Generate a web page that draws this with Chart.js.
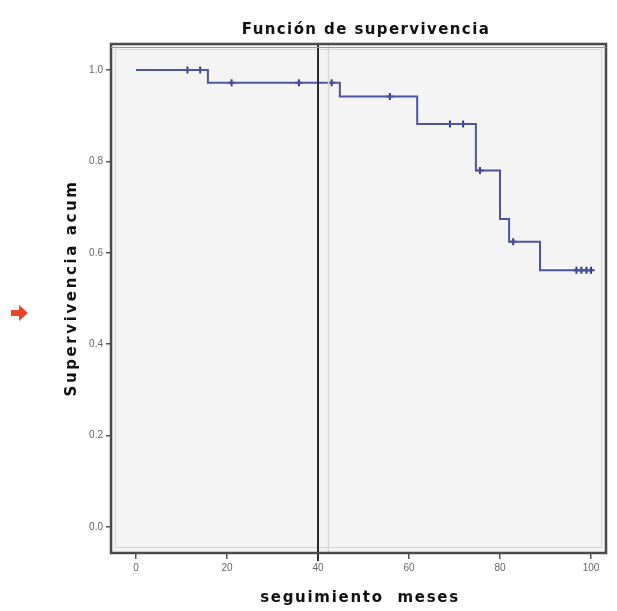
<!DOCTYPE html>
<html>
<head>
<meta charset="utf-8">
<script src="https://cdn.jsdelivr.net/npm/chart.js@4.4.1/dist/chart.umd.min.js"></script>
<style>
html,body{margin:0;padding:0;background:#fff;}
#wrap{width:617px;height:611px;}
</style>
</head>
<body>
<div id="wrap"><canvas id="c" width="617" height="611"></canvas></div>
<script>
// Kaplan-Meier step curve (time in months, cumulative survival)
const stepTimes = [0, 15.8, 44.8, 61.8, 74.7, 80.0, 82.0, 88.8, 100.0];
const stepSurv  = [1.0, 0.972, 0.942, 0.882, 0.78, 0.674, 0.624, 0.562, 0.562];
// Censored observations
const censorTimes = [11.3, 14.1, 21.0, 35.8, 43.0, 55.8, 69.0, 71.9, 75.6, 82.9, 96.8, 97.9, 99.0, 100.0];
const censorSurv  = [1.0, 1.0, 0.972, 0.972, 0.972, 0.942, 0.882, 0.882, 0.78, 0.624, 0.562, 0.562, 0.562, 0.562];
// Reference lines (months)
const refLines = [40];
const refLinesLight = [42.3];
// Axis ticks
const xTicks = [0, 20, 40, 60, 80, 100];
const yTicks = [0.0, 0.2, 0.4, 0.6, 0.8, 1.0];
const chartTitle = "Función de supervivencia";
const xTitle = "seguimiento  meses";
const yTitle = "Supervivencia acum";

const stepData = stepTimes.map((t, i) => ({x: t, y: stepSurv[i]}));
const censorData = censorTimes.map((t, i) => ({x: t, y: censorSurv[i]}));

const FONT = '"Liberation Sans", Arial, sans-serif';
const TFONT = '"DejaVu Sans", "Liberation Sans", sans-serif';

const overlay = {
  id: 'overlay',
  beforeDraw(chart) {
    const {ctx, chartArea: a} = chart;
    ctx.save();
    ctx.fillStyle = '#f4f4f4';
    ctx.fillRect(a.left, a.top, a.right - a.left, a.bottom - a.top);
    // faint inner frame
    ctx.strokeStyle = 'rgba(200,170,160,0.45)';
    ctx.lineWidth = 1;
    ctx.strokeRect(a.left + 4.5, a.top + 5.5, a.right - a.left - 9, a.bottom - a.top - 11);
    ctx.restore();
  },
  afterDatasetsDraw(chart) {
    const {ctx, chartArea: a, scales} = chart;
    ctx.save();
    // light reference line
    refLinesLight.forEach(v => {
      const px = scales.x.getPixelForValue(v);
      ctx.strokeStyle = '#d8d8d8';
      ctx.lineWidth = 1.5;
      ctx.beginPath(); ctx.moveTo(px, a.top); ctx.lineTo(px, a.bottom); ctx.stroke();
    });
    refLines.forEach(v => {
      const px = scales.x.getPixelForValue(v);
      ctx.strokeStyle = '#2b2b2b';
      ctx.lineWidth = 2;
      ctx.beginPath(); ctx.moveTo(px, a.top); ctx.lineTo(px, a.bottom + 8); ctx.stroke();
    });
    // frame
    ctx.strokeStyle = '#4a4a4a';
    ctx.lineWidth = 2.5;
    ctx.strokeRect(a.left, a.top, a.right - a.left, a.bottom - a.top);
    ctx.strokeStyle = '#9a9a9a';
    ctx.lineWidth = 1;
    ctx.beginPath(); ctx.moveTo(a.left, a.top + 3.5); ctx.lineTo(a.right, a.top + 3.5); ctx.stroke();
    // titles
    ctx.fillStyle = '#111';
    ctx.textAlign = 'center';
    ctx.textBaseline = 'middle';
    ctx.font = 'bold 15px ' + TFONT;
    ctx.letterSpacing = '1.4px';
    ctx.fillText(chartTitle, 366, 30);
    ctx.font = 'bold 15px ' + TFONT;
    ctx.letterSpacing = '1.7px';
    ctx.fillText(xTitle, 360, 598);
    ctx.save();
    ctx.translate(72, 288);
    ctx.rotate(-Math.PI / 2);
    ctx.letterSpacing = '2.6px';
    ctx.fillText(yTitle, 0, 0);
    ctx.restore();
    ctx.letterSpacing = '0px';
    // red arrow marker
    ctx.fillStyle = '#e8442a';
    ctx.beginPath();
    ctx.moveTo(11, 310); ctx.lineTo(19, 310); ctx.lineTo(19, 305);
    ctx.lineTo(28, 313); ctx.lineTo(19, 321); ctx.lineTo(19, 316);
    ctx.lineTo(11, 316); ctx.closePath(); ctx.fill();
    ctx.restore();
  }
};

new Chart(document.getElementById('c'), {
  type: 'line',
  data: {
    datasets: [
      {
        label: 'Función de supervivencia',
        data: stepData,
        stepped: 'before',
        borderColor: '#4b55a0',
        borderWidth: 2,
        pointRadius: 0,
        fill: false
      },
      {
        label: 'Censurado',
        data: censorData,
        showLine: false,
        pointStyle: 'cross',
        pointRadius: 3.5,
        pointBorderWidth: 2,
        pointBorderColor: '#2f3a86',
        pointBackgroundColor: '#2f3a86'
      }
    ]
  },
  plugins: [overlay],
  options: {
    responsive: false,
    animation: false,
    layout: {padding: {top: 44, right: 11, left: 0, bottom: 0}},
    plugins: {legend: {display: false}, tooltip: {enabled: false}, title: {display: false}},
    scales: {
      x: {
        type: 'linear',
        min: -5.5,
        max: 103.3,
        afterBuildTicks(s) { s.ticks = xTicks.map(v => ({value: v})); },
        afterFit(s) { s.height = 58; },
        grid: {drawOnChartArea: false, drawTicks: true, tickLength: 6, color: '#555', lineWidth: 1.5},
        border: {display: false},
        ticks: {color: '#666', font: {size: 10, family: FONT}, padding: 3,
          callback: v => String(v)},
        title: {display: false}
      },
      y: {
        type: 'linear',
        min: -0.057,
        max: 1.057,
        afterBuildTicks(s) { s.ticks = yTicks.map(v => ({value: v})); },
        afterFit(s) { s.width = 111; },
        grid: {drawOnChartArea: false, drawTicks: true, tickLength: 5, color: '#555', lineWidth: 1.5},
        border: {display: false},
        ticks: {color: '#666', font: {size: 10, family: FONT}, padding: 3,
          callback: v => Number(v).toFixed(1)},
        title: {display: false}
      }
    }
  }
});
</script>
</body>
</html>
